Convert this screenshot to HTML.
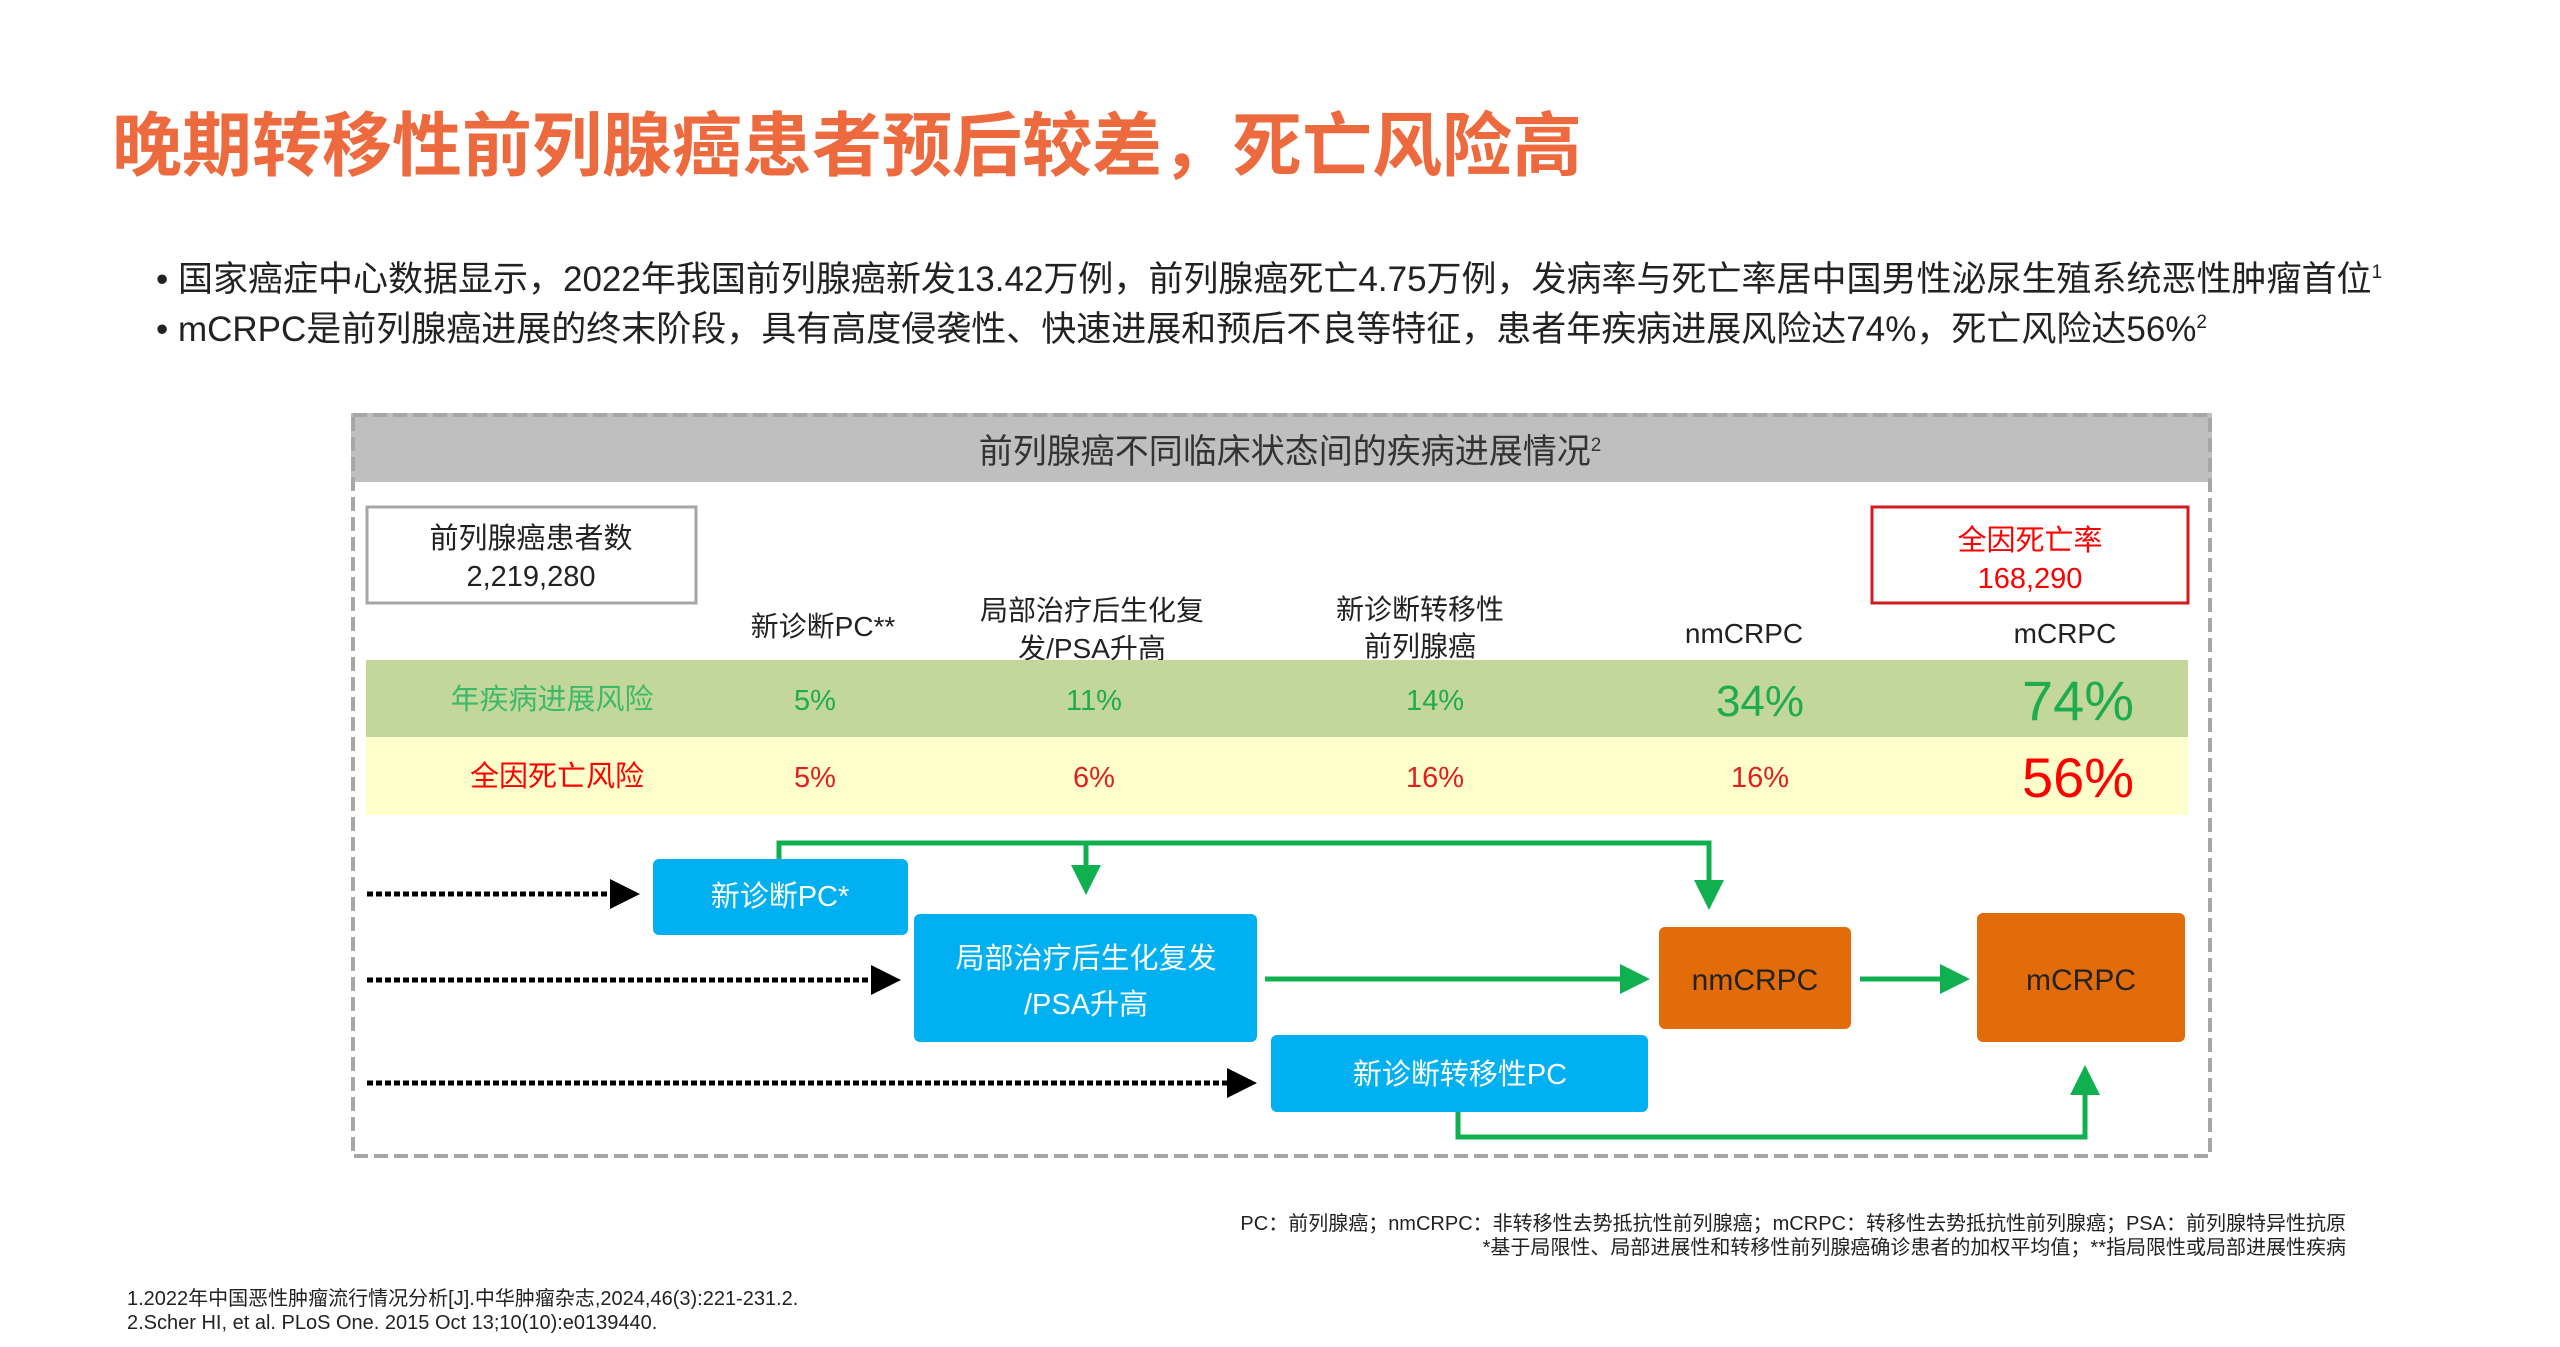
<!DOCTYPE html>
<html><head><meta charset="utf-8"><style>
html,body{margin:0;padding:0;background:#fff;}
svg{display:block;font-family:"Liberation Sans","Noto Sans CJK SC",sans-serif;}
</style></head><body>
<svg width="2560" height="1347" viewBox="0 0 2560 1347" xmlns="http://www.w3.org/2000/svg">
<defs>
<marker id="ga" markerWidth="6" markerHeight="6" refX="5" refY="3" orient="auto" markerUnits="strokeWidth"><path d="M0,0 L6,3 L0,6 z" fill="#10b050"/></marker>
<marker id="ba" markerWidth="6" markerHeight="6" refX="5" refY="3" orient="auto" markerUnits="strokeWidth"><path d="M0,0 L6,3 L0,6 z" fill="#000"/></marker>
</defs>
<text x="112" y="170" font-size="70" font-weight="bold" fill="#ec6a3e">晚期转移性前列腺癌患者预后较差，死亡风险高</text>
<text x="156" y="291" font-size="35" fill="#222">• 国家癌症中心数据显示，2022年我国前列腺癌新发13.42万例，前列腺癌死亡4.75万例，发病率与死亡率居中国男性泌尿生殖系统恶性肿瘤首位<tspan font-size="19" dy="-13">1</tspan></text>
<text x="156" y="341" font-size="35" fill="#222">• mCRPC是前列腺癌进展的终末阶段，具有高度侵袭性、快速进展和预后不良等特征，患者年疾病进展风险达74%，死亡风险达56%<tspan font-size="19" dy="-13">2</tspan></text>

<rect x="351" y="413" width="1861" height="69" fill="#bfbfbf"/>
<rect x="353" y="415" width="1857" height="741" fill="none" stroke="#a6a6a6" stroke-width="4" stroke-dasharray="14,6"/>
<text x="1290" y="463" font-size="34" text-anchor="middle" fill="#333">前列腺癌不同临床状态间的疾病进展情况<tspan font-size="19" dy="-12">2</tspan></text>

<rect x="367" y="507" width="329" height="96" fill="#fff" stroke="#a6a6a6" stroke-width="3"/>
<text x="531" y="548" font-size="29" text-anchor="middle" fill="#222">前列腺癌患者数</text>
<text x="531" y="586" font-size="29" text-anchor="middle" fill="#222">2,219,280</text>
<rect x="1872" y="507" width="316" height="96" fill="#fff" stroke="#d01c1c" stroke-width="3"/>
<text x="2030" y="550" font-size="29" text-anchor="middle" fill="#f00">全因死亡率</text>
<text x="2030" y="588" font-size="29" text-anchor="middle" fill="#f00">168,290</text>

<g font-size="28" fill="#222" text-anchor="middle">
<text x="823" y="636">新诊断PC**</text>
<text x="1092" y="620">局部治疗后生化复</text>
<text x="1092" y="658">发/PSA升高</text>
<text x="1420" y="619">新诊断转移性</text>
<text x="1420" y="656">前列腺癌</text>
<text x="1744" y="643">nmCRPC</text>
<text x="2065" y="643">mCRPC</text>
</g>

<rect x="366" y="660" width="1822" height="77" fill="#c4d79b"/>
<rect x="366" y="737" width="1822" height="78" fill="#ffffcc"/>
<g text-anchor="middle">
<text x="552" y="709" font-size="29" fill="#3cba6a">年疾病进展风险</text>
<text x="815" y="710" font-size="29" fill="#1fab4f">5%</text>
<text x="1094" y="710" font-size="29" fill="#1fab4f">11%</text>
<text x="1435" y="710" font-size="29" fill="#1fab4f">14%</text>
<text x="1760" y="716" font-size="44" fill="#1fab4f">34%</text>
<text x="2078" y="720" font-size="56" fill="#1fab4f">74%</text>
<text x="557" y="786" font-size="29" fill="#f00">全因死亡风险</text>
<text x="815" y="787" font-size="29" fill="#e02020">5%</text>
<text x="1094" y="787" font-size="29" fill="#e02020">6%</text>
<text x="1435" y="787" font-size="29" fill="#e02020">16%</text>
<text x="1760" y="787" font-size="29" fill="#e02020">16%</text>
<text x="2078" y="797" font-size="56" fill="#f00">56%</text>
</g>

<g fill="none" stroke="#10b050" stroke-width="5">
<polyline points="779,859 779,843 1709,843 1709,905" marker-end="url(#ga)"/>
<line x1="1086" y1="843" x2="1086" y2="890" marker-end="url(#ga)"/>
<line x1="1265" y1="979" x2="1645" y2="979" marker-end="url(#ga)"/>
<line x1="1860" y1="979" x2="1965" y2="979" marker-end="url(#ga)"/>
<polyline points="1458,1112 1458,1137 2085,1137 2085,1070" marker-end="url(#ga)"/>
</g>
<g fill="none" stroke="#000" stroke-width="5" stroke-dasharray="6,3">
<line x1="367" y1="894" x2="635" y2="894" marker-end="url(#ba)"/>
<line x1="367" y1="980" x2="896" y2="980" marker-end="url(#ba)"/>
<line x1="367" y1="1083" x2="1252" y2="1083" marker-end="url(#ba)"/>
</g>

<rect x="653" y="859" width="255" height="76" rx="6" fill="#00b0f0"/>
<text x="780" y="906" font-size="29" text-anchor="middle" fill="#fff">新诊断PC*</text>
<rect x="914" y="914" width="343" height="128" rx="6" fill="#00b0f0"/>
<text x="1086" y="968" font-size="29" text-anchor="middle" fill="#fff">局部治疗后生化复发</text>
<text x="1086" y="1014" font-size="29" text-anchor="middle" fill="#fff">/PSA升高</text>
<rect x="1271" y="1035" width="377" height="77" rx="6" fill="#00b0f0"/>
<text x="1460" y="1084" font-size="29" text-anchor="middle" fill="#fff">新诊断转移性PC</text>
<rect x="1659" y="927" width="192" height="102" rx="6" fill="#e36c0a"/>
<text x="1755" y="990" font-size="30" text-anchor="middle" fill="#222">nmCRPC</text>
<rect x="1977" y="913" width="208" height="129" rx="6" fill="#e36c0a"/>
<text x="2081" y="990" font-size="30" text-anchor="middle" fill="#222">mCRPC</text>

<text x="2346" y="1230" font-size="20" text-anchor="end" fill="#222">PC：前列腺癌；nmCRPC：非转移性去势抵抗性前列腺癌；mCRPC：转移性去势抵抗性前列腺癌；PSA：前列腺特异性抗原</text>
<text x="2346" y="1254" font-size="20" text-anchor="end" fill="#222">*基于局限性、局部进展性和转移性前列腺癌确诊患者的加权平均值；**指局限性或局部进展性疾病</text>
<text x="127" y="1305" font-size="20" fill="#222">1.2022年中国恶性肿瘤流行情况分析[J].中华肿瘤杂志,2024,46(3):221-231.2.</text>
<text x="127" y="1329" font-size="20" fill="#222">2.Scher HI, et al. PLoS One. 2015 Oct 13;10(10):e0139440.</text>
</svg>
</body></html>
